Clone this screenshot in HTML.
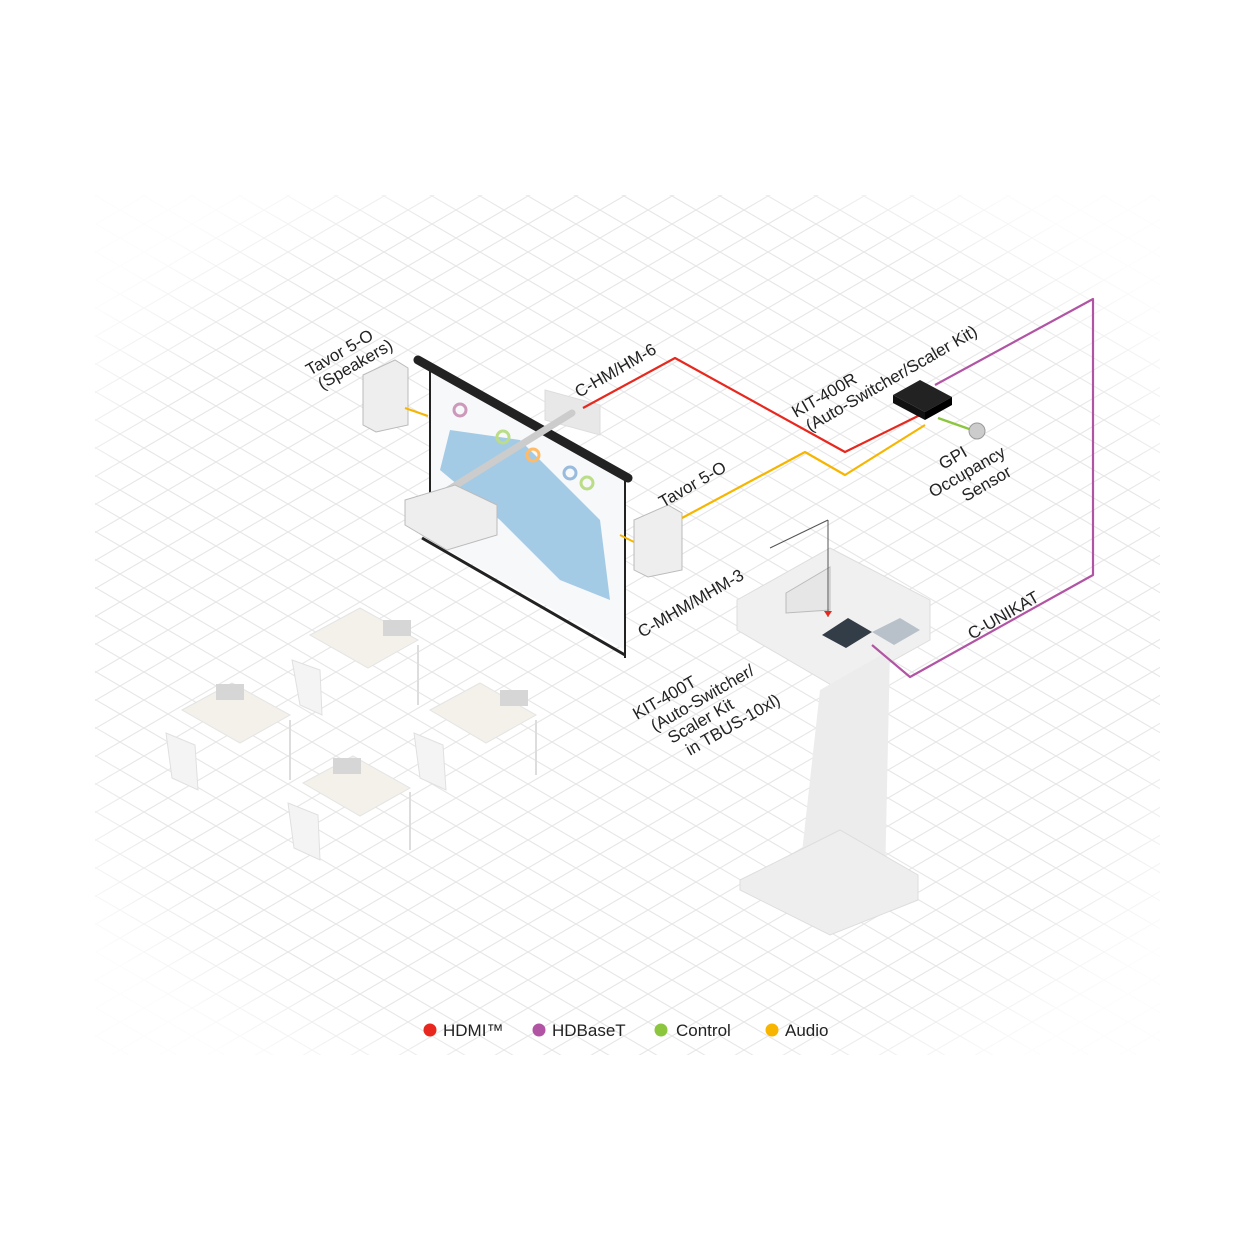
<!DOCTYPE html>
<html><head><meta charset="utf-8"><style>
html,body{margin:0;padding:0;background:#fff;}
svg{display:block}
text{font-family:"Liberation Sans",sans-serif;fill:#222}
</style></head><body>
<svg width="1250" height="1250" viewBox="0 0 1250 1250" xmlns="http://www.w3.org/2000/svg">
<defs>
<pattern id="g" width="48" height="28" patternUnits="userSpaceOnUse">
<path d="M0 0L48 28M48 0L0 28" stroke="#e6e6e6" stroke-width="1.1" fill="none"/>
</pattern>
<radialGradient id="fade" cx="0.5" cy="0.5" r="0.62">
<stop offset="0.8" stop-color="#fff" stop-opacity="0"/>
<stop offset="1" stop-color="#fff" stop-opacity="0.9"/>
</radialGradient>
</defs>
<rect x="95" y="195" width="1065" height="860" fill="url(#g)"/>
<rect x="95" y="195" width="1065" height="860" fill="url(#fade)"/>

<!-- desks/chairs -->
<g fill="#f3f1ea" stroke="#e4e4e4">
<polygon points="310,635 360,608 418,640 368,668"/>
<polygon points="182,710 232,683 290,715 240,743"/>
<polygon points="430,710 480,683 536,715 486,743"/>
<polygon points="303,783 353,756 410,788 360,816"/>
</g>
<g fill="#f4f4f4" stroke="#e0e0e0">
<polygon points="292,660 320,670 322,715 300,705"/>
<polygon points="166,733 195,745 198,790 172,778"/>
<polygon points="414,733 443,745 446,790 420,778"/>
<polygon points="288,803 318,815 320,860 294,848"/>
</g>
<g fill="#d6d6d6"><rect x="383" y="620" width="28" height="16"/><rect x="216" y="684" width="28" height="16"/><rect x="500" y="690" width="28" height="16"/><rect x="333" y="758" width="28" height="16"/></g>
<g stroke="#ddd" stroke-width="2"><line x1="418" y1="645" x2="418" y2="705"/><line x1="290" y1="720" x2="290" y2="780"/><line x1="536" y1="720" x2="536" y2="775"/><line x1="410" y1="792" x2="410" y2="850"/></g>

<!-- podium -->
<polygon points="737,600 830,548 930,600 930,640 840,690 737,630" fill="#f0f0f0" stroke="#ddd"/>
<polygon points="820,690 890,650 885,880 850,900 800,870" fill="#ececec"/>
<polygon points="740,880 840,830 918,875 918,900 830,935 740,890" fill="#eeeeee" stroke="#ddd"/>
<polygon points="786,593 830,567 830,610 786,613" fill="#e6e6e6" stroke="#bbb"/>
<polygon points="822,635 848,618 872,632 846,648" fill="#333d47"/>
<polygon points="872,632 900,618 920,630 894,645" fill="#b8c1c9"/>
<line x1="828" y1="520" x2="828" y2="617" stroke="#555" stroke-width="1"/>
<line x1="770" y1="548" x2="828" y2="520" stroke="#555" stroke-width="1"/>
<path d="M828 617 l-4 -6 h8z" fill="#e8281e"/>

<!-- screen -->
<polygon points="430,370 625,480 625,650 430,540" fill="#f7f8fa"/>
<polygon points="450,430 520,440 600,520 610,600 560,580 500,520 440,470" fill="#8fbfe0" opacity="0.8"/>
<line x1="418" y1="360" x2="628" y2="478" stroke="#222" stroke-width="9" stroke-linecap="round"/>
<line x1="430" y1="370" x2="430" y2="540" stroke="#222" stroke-width="2"/>
<line x1="625" y1="480" x2="625" y2="658" stroke="#222" stroke-width="2"/>
<line x1="422" y1="538" x2="625" y2="655" stroke="#222" stroke-width="3"/>
<g fill="none" stroke-width="3"><circle cx="460" cy="410" r="6" stroke="#c9b"/><circle cx="503" cy="437" r="6" stroke="#bd8"/><circle cx="533" cy="455" r="6" stroke="#fb6"/><circle cx="570" cy="473" r="6" stroke="#9bd"/><circle cx="587" cy="483" r="6" stroke="#bd8"/></g>
<polygon points="545,390 600,405 600,435 545,420" fill="#e8e8e8" stroke="#ddd"/>
<line x1="440" y1="495" x2="572" y2="413" stroke="#ccc" stroke-width="7" stroke-linecap="round"/>
<polygon points="405,500 455,485 497,505 497,535 447,550 405,525" fill="#eee" stroke="#bbb"/>

<!-- speakers -->
<polygon points="363,375 395,360 408,368 408,425 376,432 363,425" fill="#eee" stroke="#bbb"/>
<polygon points="634,520 668,505 682,513 682,570 648,577 634,570" fill="#eee" stroke="#bbb"/>

<!-- cables -->
<polyline points="583,408 675,358 845,452 920,415" fill="none" stroke="#e8281e" stroke-width="2.2" stroke-linejoin="round"/>
<polyline points="682,518 805,452 845,475 925,425" fill="none" stroke="#f7b500" stroke-width="2.2" stroke-linejoin="round"/>
<line x1="405" y1="408" x2="428" y2="416" stroke="#f7b500" stroke-width="2"/>
<line x1="620" y1="535" x2="634" y2="542" stroke="#f7b500" stroke-width="2"/>
<polyline points="935,385 1093,299 1093,575 910,677 872,645" fill="none" stroke="#b254a4" stroke-width="2.2" stroke-linejoin="round"/>
<line x1="938" y1="418" x2="972" y2="430" stroke="#8cc63f" stroke-width="2.5"/>
<circle cx="977" cy="431" r="8" fill="#ccc" stroke="#999"/>

<!-- KIT-400R box -->
<polygon points="893,395 920,380 952,397 925,412" fill="#222"/>
<polygon points="893,395 925,412 925,420 893,403" fill="#111"/>
<polygon points="925,412 952,397 952,405 925,420" fill="#000"/>

<!-- labels -->
<g font-size="17">
<text transform="translate(310,376) rotate(-30)">Tavor 5-O</text>
<text transform="translate(322,390) rotate(-30)">(Speakers)</text>
<text transform="translate(579,398) rotate(-30)">C-HM/HM-6</text>
<text transform="translate(796,418) rotate(-30)">KIT-400R</text>
<text transform="translate(810,432) rotate(-30)">(Auto-Switcher/Scaler Kit)</text>
<text transform="translate(663,508) rotate(-30)">Tavor 5-O</text>
<text transform="translate(943,470) rotate(-30)">GPI</text>
<text transform="translate(933,498) rotate(-30)">Occupancy</text>
<text transform="translate(966,502) rotate(-30)">Sensor</text>
<text transform="translate(642,638) rotate(-30)">C-MHM/MHM-3</text>
<text transform="translate(972,640) rotate(-30)">C-UNIKAT</text>
<text transform="translate(637,720) rotate(-30)">KIT-400T</text>
<text transform="translate(655,732) rotate(-30)">(Auto-Switcher/</text>
<text transform="translate(672,744) rotate(-30)">Scaler Kit</text>
<text transform="translate(690,756) rotate(-30)">in TBUS-10xl)</text>
</g>

<!-- legend -->
<g font-size="17">
<circle cx="430" cy="1030" r="6.5" fill="#e8281e"/><text x="443" y="1036" fill="#555">HDMI™</text>
<circle cx="539" cy="1030" r="6.5" fill="#b254a4"/><text x="552" y="1036" fill="#555">HDBaseT</text>
<circle cx="661" cy="1030" r="6.5" fill="#8cc63f"/><text x="676" y="1036" fill="#555">Control</text>
<circle cx="772" cy="1030" r="6.5" fill="#f7b500"/><text x="785" y="1036" fill="#555">Audio</text>
</g>
</svg>
</body></html>
